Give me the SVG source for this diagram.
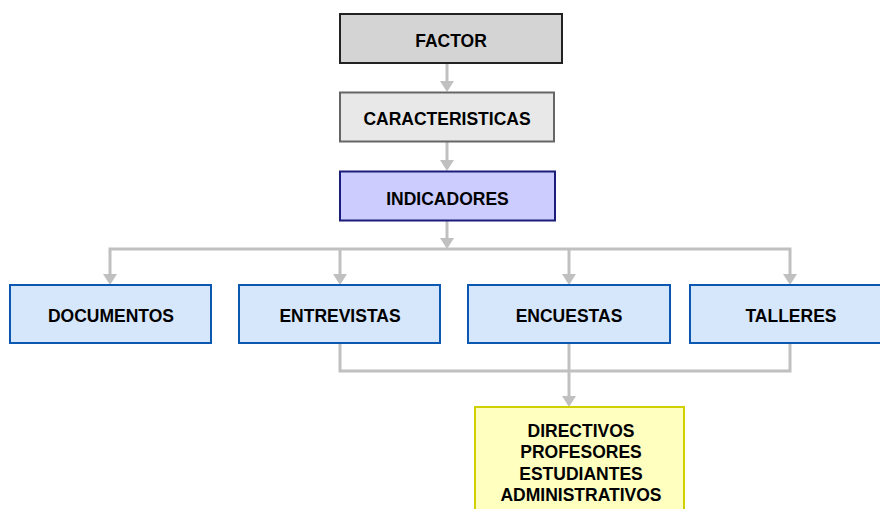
<svg xmlns="http://www.w3.org/2000/svg" width="880" height="509" viewBox="0 0 880 509">
<style>
.t{font-family:"Liberation Sans",Arial,sans-serif;font-weight:bold;font-size:17.5px;fill:#000;text-anchor:middle}
.c{fill:none;stroke:#c0c0c0;stroke-width:3}
.b{fill:#d6e7fb;stroke:#0a58b0;stroke-width:2}
</style>
<defs>
<marker id="ah" markerWidth="14" markerHeight="10" viewBox="0 0 14 10" refX="7" refY="10" orient="auto-start-reverse" markerUnits="userSpaceOnUse">
<path d="M0,0 L14,0 L7,10 Z" fill="#c0c0c0" transform="rotate(0)"/>
</marker>
</defs>
<rect width="880" height="509" fill="#fff"/>
<g id="connectors">
<path class="c" d="M447,63 V82"/>
<path d="M440,81 H454 L447,92 Z" fill="#c0c0c0"/>
<path class="c" d="M447,142 V161"/>
<path d="M440,160 H454 L447,171 Z" fill="#c0c0c0"/>
<path class="c" d="M447,221 V240"/>
<path d="M440,238 H454 L447,249 Z" fill="#c0c0c0"/>
<path class="c" d="M110,275 V249 H790 V275"/>
<path class="c" d="M340,249 V275"/>
<path class="c" d="M569,249 V275"/>
<path d="M103,274 H117 L110,285 Z" fill="#c0c0c0"/>
<path d="M333,274 H347 L340,285 Z" fill="#c0c0c0"/>
<path d="M562,274 H576 L569,285 Z" fill="#c0c0c0"/>
<path d="M783,274 H797 L790,285 Z" fill="#c0c0c0"/>
<path class="c" d="M340,343 V371 H790 V343"/>
<path class="c" d="M569,343 V397"/>
<path d="M562,396 H576 L569,407 Z" fill="#c0c0c0"/>
</g>
<g id="factor">
<rect x="340" y="14" width="222" height="49" fill="#d4d4d4" stroke="#222" stroke-width="2"/>
<text class="t" x="451" y="46.5">FACTOR</text>
</g>
<g id="caracteristicas">
<rect x="340" y="92.5" width="214" height="49" fill="#e8e8e8" stroke="#666" stroke-width="2"/>
<text class="t" x="447" y="125">CARACTERISTICAS</text>
</g>
<g id="indicadores">
<rect x="340" y="171.5" width="215" height="49" fill="#ccccff" stroke="#1c1c7a" stroke-width="2"/>
<text class="t" x="447.5" y="205">INDICADORES</text>
</g>
<g id="documentos">
<rect class="b" x="10" y="285" width="201" height="58"/>
<text class="t" x="111" y="322">DOCUMENTOS</text>
</g>
<g id="entrevistas">
<rect class="b" x="239" y="285" width="201" height="58"/>
<text class="t" x="340" y="322">ENTREVISTAS</text>
</g>
<g id="encuestas">
<rect class="b" x="468" y="285" width="202" height="58"/>
<text class="t" x="569" y="322">ENCUESTAS</text>
</g>
<g id="talleres">
<rect class="b" x="690" y="285" width="202" height="58"/>
<text class="t" x="791" y="322">TALLERES</text>
</g>
<g id="actores">
<rect x="475" y="407" width="209" height="110" fill="#ffffc0" stroke="#d0d000" stroke-width="2"/>
<text class="t" x="581" y="436.5">DIRECTIVOS</text>
<text class="t" x="581" y="458">PROFESORES</text>
<text class="t" x="581" y="479.5">ESTUDIANTES</text>
<text class="t" x="581" y="501">ADMINISTRATIVOS</text>
</g>
</svg>
